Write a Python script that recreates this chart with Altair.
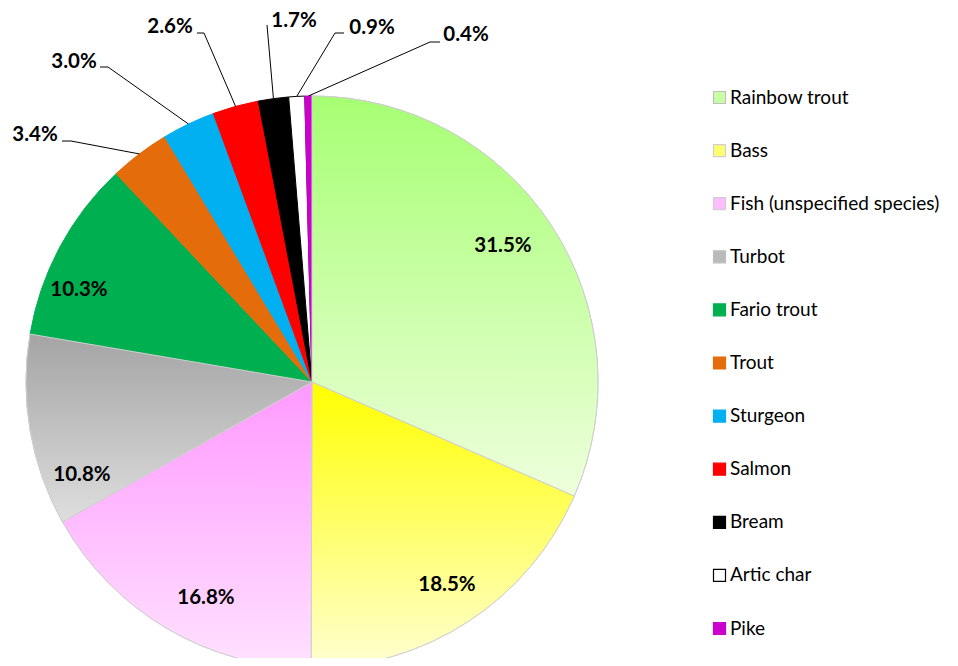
import altair as alt
import pandas as pd

# ---------------- data ----------------
categories = ["Rainbow trout", "Bass", "Fish (unspecified species)", "Turbot",
              "Fario trout", "Trout", "Sturgeon", "Salmon", "Bream",
              "Artic char", "Pike"]
values = [31.5, 18.5, 16.8, 10.8, 10.3, 3.4, 3.0, 2.6, 1.7, 0.9, 0.4]

# ---------------- styles ----------------
solid_colors = ["#c8ffa4", "#ffff70", "#ffbcff", "#bababa", "#00b050", "#e46c0a",
                "#00b0f0", "#ff0000", "#000000", "#ffffff", "#cc00cc"]
stroke_colors = ["#bfbfbf", "#cfcfcf", "#cfcfcf", "#bfbfbf", "#00b050", "#e46c0a",
                 "#00b0f0", "#ff0000", "#000000", "#000000", "#cc00cc"]
gradients = {
    "Rainbow trout": ("#a6ff73", "#eeffdc"),
    "Bass": ("#ffff00", "#ffffd2"),
    "Fish (unspecified species)": ("#ff99ff", "#ffe2ff"),
    "Turbot": ("#a4a4a4", "#dedede"),
}

# ---------------- layout (pixels, relative to pie centre) ----------------
W, H = 942, 650
X0, Y0 = 304, 374      # pie centre inside the plot area
R = 286                # pie radius
label_dx = [191, 135, -106, -230, -233, -277, -238, -142, -18, 60, 154]
label_dy = [-136, 203, 216, 93, -92, -247, -320, -355, -361, -354, -347]
elbow_x = [None] * 5 + [-241, -204, -108, -45, 23, 118]
elbow_y = [None] * 5 + [-241, -315, -349, -357, -349, -340]
end_x = [None] * 5 + [-250, -212, -115, -45, 32, 128]

total = sum(values)

df = pd.DataFrame({
    "idx": list(range(len(categories))),
    "category": categories,
    "value": values,
    "label_dx": label_dx,
    "label_dy": label_dy,
    "elbow_x": elbow_x,
    "elbow_y": elbow_y,
    "end_x": end_x,
})

base = alt.Chart(df).transform_window(
    cum="sum(value)", sort=[alt.SortField("idx")], frame=[None, 0]
).transform_calculate(
    start="datum.cum - datum.value",
    mid=f"(datum.cum - datum.value / 2) / {total} * 2 * PI",
).transform_calculate(
    ex=f"{R} * sin(datum.mid)",
    ey=f"-{R} * cos(datum.mid)",
    pct="format(datum.value, '.1f') + '%'",
)

xs = alt.Scale(domain=[-X0, W - X0], nice=False, zero=False)
ys = alt.Scale(domain=[-Y0, H - Y0], reverse=True, nice=False, zero=False)
theta_scale = alt.Scale(domain=[0, total])

legend = alt.Legend(
    title=None, orient="none", legendX=702, legendY=80,
    symbolType="square", symbolSize=144, symbolStrokeWidth=1.2,
    labelFont="Lato", labelFontSize=19, labelColor="black",
    labelOffset=1, rowPadding=33.1, padding=0, labelLimit=0,
)

arcs = base.mark_arc(radius=R, strokeWidth=1).encode(
    theta=alt.Theta("start:Q", scale=theta_scale),
    theta2=alt.Theta2("cum:Q"),
    fill=alt.Fill("category:N", scale=alt.Scale(domain=categories, range=solid_colors),
                  legend=legend),
    stroke=alt.Stroke("category:N", scale=alt.Scale(domain=categories, range=stroke_colors),
                      legend=legend),
    x=alt.value(X0),
    y=alt.value(Y0),
)

grad_layers = []
for cat, (c_top, c_bottom) in gradients.items():
    grad = alt.LinearGradient(
        gradient="linear",
        stops=[alt.GradientStop(color=c_top, offset=0),
               alt.GradientStop(color=c_bottom, offset=1)],
        x1=0, x2=0, y1=0, y2=1,
    )
    grad_layers.append(
        base.transform_filter(alt.datum.category == cat).mark_arc(
            radius=R, fill=grad, stroke="#cfcfcf", strokeWidth=1
        ).encode(
            theta=alt.Theta("start:Q", scale=theta_scale),
            theta2=alt.Theta2("cum:Q"),
            x=alt.value(X0),
            y=alt.value(Y0),
        )
    )

leaders = base.transform_filter("isValid(datum.elbow_x)")
rule1 = leaders.mark_rule(color="black", strokeWidth=1).encode(
    x=alt.X("ex:Q", scale=xs, axis=None),
    y=alt.Y("ey:Q", scale=ys, axis=None),
    x2="elbow_x:Q",
    y2="elbow_y:Q",
)
rule2 = leaders.mark_rule(color="black", strokeWidth=1).encode(
    x=alt.X("elbow_x:Q", scale=xs, axis=None),
    y=alt.Y("elbow_y:Q", scale=ys, axis=None),
    x2="end_x:Q",
    y2="elbow_y:Q",
)

labels = base.mark_text(font="Lato", fontSize=20.5, fontWeight="bold",
                        color="black", baseline="middle", align="center").encode(
    x=alt.X("label_dx:Q", scale=xs, axis=None),
    y=alt.Y("label_dy:Q", scale=ys, axis=None),
    text="pct:N",
)

chart = alt.layer(arcs, *grad_layers, rule1, rule2, labels).properties(
    width=W, height=H, padding=0,
    autosize=alt.AutoSizeParams(type="none"),
    background="white",
).configure_view(stroke=None)

chart.save("out.html", embed_options={"renderer": "svg", "actions": False})
